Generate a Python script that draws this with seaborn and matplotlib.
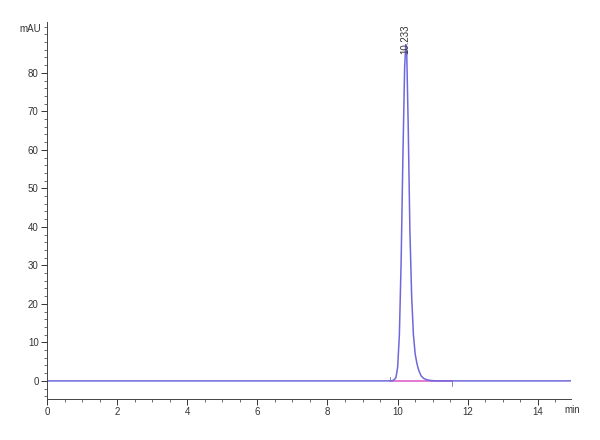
import matplotlib.pyplot as plt
import seaborn as sns
import pandas as pd
from matplotlib.ticker import MultipleLocator

# Chromatogram trace (time in min, signal in mAU)
time_min = [0.0, 7.5, 9.70, 9.85, 9.90, 9.95, 10.00, 10.05, 10.10, 10.15,
            10.20, 10.233, 10.26, 10.30, 10.35, 10.40, 10.45, 10.50, 10.55,
            10.60, 10.67, 10.75, 10.85, 10.95, 11.10, 12.5, 14.95]
signal_mau = [0.0, 0.0, 0.0, 0.05, 0.3, 0.8, 3.5, 12.0, 31.0, 58.0,
              81.5, 87.3, 85.0, 67.0, 39.0, 22.0, 12.0, 7.0, 4.5,
              2.8, 1.3, 0.6, 0.25, 0.1, 0.0, 0.0, 0.0]

# integration baseline under the peak
base_time = [9.79, 11.56]
base_mau = [0.0, 0.0]

peak_rt = "10.233"
label_y = 85.0

trace = pd.DataFrame({"time": time_min, "mAU": signal_mau})
baseline = pd.DataFrame({"time": base_time, "mAU": base_mau})

sns.set_style("ticks")
plt.rcParams['font.family'] = ['Liberation Sans', 'DejaVu Sans']

fig = plt.figure(figsize=(6, 4.4), dpi=100)
ax = fig.add_axes([0.0783, 0.0932, 0.8737, 0.8568])

sns.lineplot(data=baseline, x="time", y="mAU", color="#e070d0", linewidth=1.3, ax=ax)
sns.lineplot(data=trace, x="time", y="mAU", color="#6f68dc", linewidth=1.1, ax=ax)

# little end marks of the integration baseline
ax.plot([base_time[0], base_time[0]], [0.0, 1.0], color="#8080c0", linewidth=0.7)
ax.plot([base_time[1], base_time[1]], [0.0, -1.2], color="#8080c0", linewidth=0.7)

ax.text(float(peak_rt), label_y, peak_rt, rotation=90, ha="center",
        va="bottom", fontsize=7, color="#333333")

ax.set_xlim(0, 14.95)
ax.set_ylim(-4.7, 93.2)
ax.xaxis.set_major_locator(MultipleLocator(2))
ax.xaxis.set_minor_locator(MultipleLocator(0.5))
ax.set_yticks(range(0, 90, 10))
ax.yaxis.set_minor_locator(MultipleLocator(2))
ax.tick_params(which="major", length=4, width=0.7, labelsize=7, colors="#333333", pad=2)
ax.tick_params(which="minor", length=2.5, width=0.6, colors="#555555")

ax.set_xlabel("")
ax.set_ylabel("")
ax.text(-0.012, 91.5, "mAU", transform=ax.get_yaxis_transform(), ha="right",
        va="center", fontsize=7, color="#333333")
ax.text(14.75, -0.016, "min", transform=ax.get_xaxis_transform(), ha="left",
        va="top", fontsize=7, color="#333333")

for side in ["top", "right"]:
    ax.spines[side].set_visible(False)
for side in ["left", "bottom"]:
    ax.spines[side].set_linewidth(0.7)
    ax.spines[side].set_color("#444444")

fig.savefig("out.png", dpi=100)
